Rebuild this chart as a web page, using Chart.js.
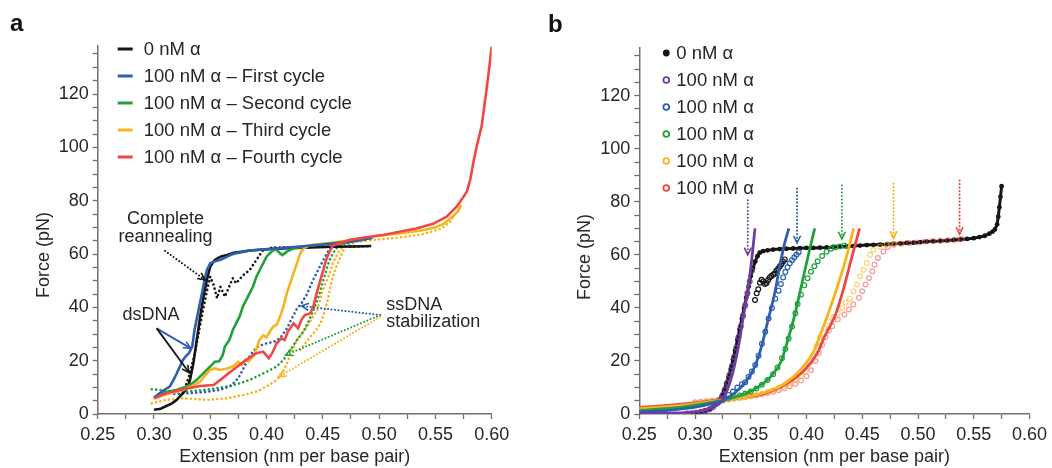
<!DOCTYPE html>
<html>
<head>
<meta charset="utf-8">
<script src="https://cdn.jsdelivr.net/npm/chart.js@4.4.1/dist/chart.umd.min.js"></script>
<style>
  html, body { margin: 0; padding: 0; background: #fff; }
  #wrap { position: relative; width: 1052px; height: 468px; overflow: hidden; }
  canvas { position: absolute; top: 0; }
  #chartA { left: 0; }
  #chartB { left: 526px; }
</style>
</head>
<body>
<div id="wrap">
  <canvas id="chartA" width="526" height="468"></canvas>
  <canvas id="chartB" width="526" height="468"></canvas>
</div>
<script>
// ---- panel a : force-extension cycles (x = nm per bp, y = pN) ----
const aBlack = [[0.300,1.6],[0.306,2.0],[0.311,3.0],[0.316,4.0],[0.320,5.2],[0.324,7.1],[0.327,8.5],[0.330,10.3],[0.332,12.8],[0.335,19.0],[0.338,27.8],[0.341,36.5],[0.344,44.0],[0.347,50.3],[0.350,55.3],[0.354,57.8],[0.359,59.0],[0.365,59.6],[0.371,60.5],[0.377,60.8],[0.385,61.3],[0.400,61.8],[0.420,62.2],[0.440,62.5],[0.460,62.7],[0.478,62.8],[0.493,63.0]];
const aBlackDot = [[0.326,8.0],[0.331,14.0],[0.336,22.0],[0.340,31.0],[0.344,40.0],[0.348,48.0],[0.350,51.5],[0.353,48.4],[0.356,43.4],[0.359,47.7],[0.363,44.0],[0.366,47.0],[0.370,50.9],[0.373,49.0],[0.379,52.0],[0.385,54.0],[0.391,57.8],[0.397,61.5],[0.405,62.4],[0.430,62.6],[0.460,62.8],[0.493,62.9]];
const aBlue = [[0.300,6.0],[0.305,7.8],[0.309,9.0],[0.314,10.3],[0.317,12.5],[0.320,15.0],[0.323,17.8],[0.326,20.5],[0.329,22.0],[0.331,22.8],[0.334,25.3],[0.336,31.5],[0.339,37.8],[0.342,44.0],[0.345,50.3],[0.347,54.0],[0.350,56.5],[0.353,57.1],[0.356,57.5],[0.359,57.8],[0.362,58.4],[0.365,59.0],[0.369,59.8],[0.373,60.3],[0.379,60.8],[0.385,61.3],[0.400,61.8],[0.415,62.3],[0.430,62.8],[0.445,63.4],[0.460,64.0],[0.478,65.0],[0.494,66.0]];
const aBlueDot = [[0.318,7.5],[0.330,7.8],[0.345,8.2],[0.358,9.0],[0.368,10.5],[0.375,13.5],[0.380,17.5],[0.384,21.0],[0.388,23.5],[0.393,25.5],[0.400,26.5],[0.406,27.0],[0.412,28.4],[0.418,32.0],[0.422,35.5],[0.427,39.5],[0.431,41.5],[0.436,45.0],[0.441,50.0],[0.447,55.0],[0.452,59.0],[0.456,62.0],[0.461,63.4],[0.475,64.5],[0.490,65.5]];
const aGreen = [[0.300,6.3],[0.310,8.2],[0.320,9.0],[0.329,10.3],[0.334,11.5],[0.338,12.8],[0.344,15.3],[0.350,17.8],[0.354,19.6],[0.358,19.8],[0.361,22.0],[0.363,25.3],[0.367,27.8],[0.370,31.5],[0.373,34.0],[0.376,36.5],[0.379,40.3],[0.382,42.8],[0.385,45.3],[0.388,47.8],[0.391,51.5],[0.394,54.0],[0.397,56.5],[0.400,59.0],[0.403,60.3],[0.406,61.5],[0.409,61.5],[0.412,60.3],[0.414,59.6],[0.418,60.9],[0.424,62.1],[0.436,63.0],[0.459,64.0],[0.475,65.0],[0.489,66.3]];
const aGreenDot = [[0.298,9.3],[0.311,8.8],[0.329,8.4],[0.350,9.3],[0.365,10.3],[0.376,11.5],[0.385,12.8],[0.394,14.6],[0.403,16.5],[0.409,17.8],[0.415,20.3],[0.421,24.0],[0.427,27.8],[0.433,31.0],[0.438,35.3],[0.443,40.3],[0.447,45.0],[0.450,49.5],[0.453,54.0],[0.456,57.8],[0.459,60.3],[0.462,62.1],[0.466,63.4],[0.477,64.6],[0.489,65.9]];
const aYellow = [[0.300,5.9],[0.312,7.5],[0.326,9.0],[0.334,10.5],[0.341,12.1],[0.347,15.3],[0.350,16.5],[0.354,17.1],[0.359,16.5],[0.365,17.1],[0.370,17.8],[0.375,19.6],[0.378,18.4],[0.381,20.3],[0.384,19.6],[0.388,21.5],[0.391,24.5],[0.394,28.0],[0.397,29.5],[0.400,28.8],[0.403,31.0],[0.406,32.8],[0.409,33.5],[0.412,36.5],[0.415,40.3],[0.418,45.3],[0.421,49.0],[0.424,52.8],[0.427,56.5],[0.430,60.3],[0.433,62.1],[0.439,63.4],[0.459,64.3],[0.477,65.3],[0.489,66.3],[0.500,67.0],[0.520,67.8],[0.540,69.0],[0.550,70.0],[0.558,71.5],[0.565,74.0],[0.570,76.0],[0.573,78.4]];
const aYellowDot = [[0.298,4.0],[0.311,5.3],[0.326,5.9],[0.347,5.3],[0.365,5.9],[0.379,7.1],[0.391,8.4],[0.400,10.3],[0.409,12.8],[0.415,16.0],[0.421,22.0],[0.427,27.8],[0.436,32.8],[0.445,39.0],[0.450,46.5],[0.455,51.5],[0.459,56.5],[0.464,60.9],[0.470,63.4],[0.480,64.5],[0.500,65.5],[0.520,66.3],[0.540,67.5],[0.555,69.5],[0.563,72.0],[0.569,75.9]];
const aYellowDot2 = [[0.430,24.0],[0.437,28.0],[0.443,31.0],[0.448,34.0],[0.452,39.0],[0.455,44.0],[0.458,50.3],[0.462,55.3],[0.467,60.3],[0.471,63.4],[0.480,64.3]];
const aRed = [[0.300,5.9],[0.311,7.8],[0.326,9.3],[0.341,10.5],[0.353,10.9],[0.359,12.8],[0.370,16.5],[0.382,20.3],[0.391,22.8],[0.397,23.4],[0.402,20.9],[0.405,22.8],[0.409,26.5],[0.413,28.4],[0.416,27.8],[0.419,30.9],[0.424,34.0],[0.428,32.1],[0.431,35.3],[0.434,37.1],[0.439,37.8],[0.442,41.0],[0.445,46.0],[0.449,52.0],[0.453,57.8],[0.456,61.0],[0.459,63.2],[0.474,65.3],[0.489,66.3],[0.504,67.1],[0.519,68.4],[0.533,69.6],[0.548,71.3],[0.560,74.0],[0.569,77.8],[0.575,81.5],[0.578,83.5],[0.581,88.0],[0.584,95.0],[0.587,101.0],[0.591,107.8],[0.593,114.0],[0.595,120.3],[0.597,127.0],[0.600,137.8]];

// ---- panel b : data (circles) and fits (lines) ----
const bBlack = [[0.298,0.0],[0.302,0.3],[0.306,0.7],[0.310,1.2],[0.314,2.0],[0.318,3.3],[0.321,5.0],[0.324,7.0],[0.326,9.0],[0.328,11.5],[0.330,14.0],[0.332,17.0],[0.334,20.5],[0.336,24.0],[0.338,28.0],[0.340,32.0],[0.342,36.0],[0.344,40.0],[0.346,44.0],[0.348,48.0],[0.350,52.0],[0.352,55.0],[0.354,57.5],[0.356,59.5],[0.358,60.8],[0.361,61.4],[0.365,61.7],[0.370,62.0],[0.376,62.2],[0.382,62.3],[0.388,62.4],[0.394,62.5],[0.400,62.6],[0.406,62.6],[0.412,62.7],[0.418,62.8],[0.424,63.0],[0.430,63.1],[0.436,63.2],[0.442,63.3],[0.448,63.5],[0.454,63.7],[0.460,63.8],[0.466,63.9],[0.472,64.0],[0.478,64.2],[0.484,64.3],[0.490,64.5],[0.496,64.6],[0.502,64.8],[0.508,65.0],[0.514,65.1],[0.520,65.2],[0.526,65.4],[0.532,65.6],[0.538,65.8],[0.544,66.0],[0.550,66.3],[0.555,66.7],[0.560,67.2],[0.564,68.0],[0.567,68.8],[0.569,69.6],[0.571,71.5],[0.572,74.4],[0.573,78.0],[0.574,81.9],[0.575,85.9]];
const bBlackOpen = [[0.3538,43.0],[0.3553,45.5],[0.3567,47.0],[0.3582,49.5],[0.3597,50.6],[0.3612,50.0],[0.3627,49.0],[0.3641,49.4],[0.3656,50.5],[0.3670,51.5],[0.3685,52.0],[0.3700,52.5],[0.3715,53.0],[0.3730,54.0],[0.3745,54.8],[0.3760,55.6],[0.3775,56.5],[0.3790,57.5],[0.3805,58.3]];
const bPurpleOpen = [[0.293,0.2],[0.297,0.3],[0.301,0.5],[0.305,0.8],[0.309,1.2],[0.313,1.8],[0.316,2.6],[0.319,3.8],[0.322,5.2],[0.325,7.2],[0.327,9.3],[0.329,11.8],[0.331,14.8],[0.333,18.0],[0.335,21.5],[0.337,25.0],[0.339,29.0],[0.341,33.0],[0.343,37.0],[0.345,41.0],[0.347,45.5],[0.349,50.0],[0.351,54.0]];
const bBlueOpen = [[0.322,5.0],[0.326,6.0],[0.330,7.2],[0.334,8.5],[0.338,10.0],[0.342,11.2],[0.345,12.0],[0.348,14.0],[0.351,16.0],[0.354,18.5],[0.357,22.0],[0.360,26.5],[0.363,31.0],[0.366,36.0],[0.369,40.0],[0.372,43.5],[0.375,46.5],[0.377,49.0],[0.379,51.5],[0.381,53.5],[0.383,55.3],[0.385,56.8],[0.387,58.0],[0.389,59.0],[0.391,60.0],[0.393,61.0]];
const bGreenOpen = [[0.325,5.2],[0.330,5.8],[0.335,6.4],[0.340,7.0],[0.345,7.7],[0.350,8.5],[0.355,9.6],[0.360,11.0],[0.365,12.8],[0.370,15.0],[0.374,17.5],[0.378,21.0],[0.381,24.5],[0.384,28.5],[0.387,33.0],[0.390,38.0],[0.392,41.5],[0.395,45.0],[0.398,48.5],[0.401,51.2],[0.404,53.6],[0.407,55.7],[0.410,57.6],[0.414,59.6],[0.418,61.2],[0.422,62.3],[0.426,62.9],[0.430,63.2],[0.434,63.4]];
const bYellowOpen = [[0.300,4.1],[0.305,4.3],[0.310,4.5],[0.315,4.8],[0.320,5.0],[0.325,5.2],[0.330,5.5],[0.335,5.7],[0.340,6.0],[0.345,6.3],[0.350,6.7],[0.355,7.1],[0.360,7.6],[0.365,8.2],[0.370,8.9],[0.375,9.6],[0.380,10.5],[0.385,11.4],[0.390,12.6],[0.395,14.2],[0.399,16.0],[0.403,19.5],[0.406,22.0],[0.409,25.5],[0.412,29.0],[0.416,32.5],[0.420,35.0],[0.424,36.5],[0.428,38.0],[0.432,40.0],[0.435,42.0],[0.439,43.5],[0.442,46.2],[0.445,48.8],[0.448,51.9],[0.451,54.4],[0.454,56.9],[0.457,60.0],[0.460,61.9],[0.466,63.1],[0.472,63.8],[0.479,64.2]];
const bRedOpen = [[0.300,4.4],[0.305,4.6],[0.310,4.8],[0.315,5.0],[0.320,5.2],[0.325,5.4],[0.330,5.6],[0.335,5.9],[0.340,6.1],[0.345,6.4],[0.350,6.7],[0.355,7.0],[0.360,7.4],[0.365,7.9],[0.370,8.4],[0.375,9.0],[0.380,9.7],[0.385,10.5],[0.390,11.4],[0.395,12.6],[0.400,14.2],[0.404,16.5],[0.408,20.0],[0.411,23.0],[0.414,26.0],[0.417,29.0],[0.420,31.5],[0.423,33.1],[0.428,35.6],[0.434,37.5],[0.438,39.4],[0.442,41.3],[0.447,43.8],[0.450,46.3],[0.453,48.8],[0.456,51.3],[0.459,53.8],[0.461,56.3],[0.464,58.8],[0.469,61.3],[0.473,62.9],[0.478,63.8],[0.485,64.2],[0.492,64.5],[0.499,64.7],[0.506,65.0],[0.513,65.2],[0.520,65.4],[0.527,65.6],[0.534,65.8],[0.539,66.0]];
const bPurpleFit = [[0.250,0.2],[0.270,0.3],[0.290,0.5],[0.300,0.8],[0.310,1.6],[0.316,2.8],[0.3243,5.0],[0.3331,14.4],[0.339,25.6],[0.3434,36.9],[0.3479,48.1],[0.3508,58.1],[0.3538,70.0]];
const bBlueFit = [[0.250,0.8],[0.270,1.2],[0.290,2.0],[0.305,3.0],[0.315,4.0],[0.3243,5.0],[0.3361,8.1],[0.345,11.9],[0.3538,18.1],[0.3597,25.6],[0.3656,35.6],[0.3715,45.6],[0.3759,55.6],[0.3804,64.4],[0.3842,70.0]];
const bGreenFit = [[0.250,1.3],[0.270,1.9],[0.290,2.7],[0.305,3.6],[0.315,4.4],[0.325,5.2],[0.335,6.3],[0.345,7.6],[0.3567,10.2],[0.3685,14.4],[0.3774,20.0],[0.3833,28.0],[0.388,35.0],[0.392,42.0],[0.3995,56.0],[0.4039,64.0],[0.4074,70.0]];
const bYellowFit = [[0.250,2.0],[0.270,2.6],[0.290,3.3],[0.305,4.2],[0.320,5.0],[0.335,5.8],[0.350,6.8],[0.3627,8.1],[0.3804,11.5],[0.3951,16.9],[0.4069,24.0],[0.4113,28.75],[0.420,38.5],[0.4276,48.0],[0.435,58.0],[0.4423,70.0]];
const bRedFit = [[0.250,2.5],[0.270,3.1],[0.290,3.8],[0.305,4.5],[0.320,5.2],[0.335,5.9],[0.350,6.7],[0.3627,7.8],[0.3804,11.0],[0.398,16.5],[0.4098,23.0],[0.4157,28.75],[0.426,37.5],[0.4334,47.5],[0.4393,57.0],[0.4476,70.0]];
// transition arrows in b: [x, y start, y tip]
const bArrows = [[0.3473,80.6,60.0],[0.3915,85.0,64.5],[0.4317,86.2,66.0],[0.4780,86.9,66.2],[0.5373,88.0,67.8]];

const xTickMin = 0.25, xTickMax = 0.60, yMax = 138;
const legendA = ['0 nM \u03b1', '100 nM \u03b1 \u2013 First cycle', '100 nM \u03b1 \u2013 Second cycle', '100 nM \u03b1 \u2013 Third cycle', '100 nM \u03b1 \u2013 Fourth cycle'];
const legendB = ['0 nM \u03b1', '100 nM \u03b1', '100 nM \u03b1', '100 nM \u03b1', '100 nM \u03b1', '100 nM \u03b1'];

const BLACK = '#151515', BLUE = '#2d5eb0', GREEN = '#21a13c', YELLOW = '#f8b41c', RED = '#ee4747', PURPLE = '#6e3e9e';
const YELLOW_L = 'rgba(248,180,28,0.6)', RED_L = 'rgba(238,71,71,0.55)';
const AXIS = '#7b6c66', TXT = '#262626';
const FONT = "'Liberation Sans', Arial, Helvetica, sans-serif";

Chart.defaults.font.family = FONT;
Chart.defaults.color = TXT;

function xy(arr) {
    return arr.map(function (p) { return {x: p[0], y: p[1]}; });
}

function solid(data, color, order) {
    return {data: xy(data), borderColor: color, borderWidth: 2.6, pointRadius: 0, tension: 0, order: order};
}

function dotted(data, color, order) {
    return {data: xy(data), borderColor: color, borderWidth: 2.6, borderDash: [0.1, 4.3], borderCapStyle: 'round',
        pointRadius: 0, tension: 0, order: order};
}

function circles(data, color, order) {
    return {data: xy(data), showLine: false, pointRadius: 2.4, pointBorderWidth: 1.2,
        pointBorderColor: color, pointBackgroundColor: 'rgba(255,255,255,0)', order: order};
}

function fit(data, color, order) {
    return {data: xy(data), borderColor: color, borderWidth: 2.8, pointRadius: 0,
        cubicInterpolationMode: 'monotone', order: order};
}

function makeScales(yWidth) {
    return {
        x: {
            type: 'linear', min: xTickMin, max: xTickMax,
            afterFit: function (s) { s.height = 54; },
            ticks: {
                stepSize: 0.025, padding: 5, maxRotation: 0, autoSkip: false, color: TXT, font: {size: 18},
                callback: function (v) { return Math.round(v * 1000) % 50 === 0 ? v.toFixed(2) : ''; }
            },
            grid: {drawOnChartArea: false, drawTicks: true, tickLength: 5, tickColor: AXIS, tickWidth: 1.3},
            border: {display: true, color: AXIS, width: 1.5},
            title: {display: true, text: 'Extension (nm per base pair)', color: TXT, font: {size: 18}, padding: 0}
        },
        y: {
            type: 'linear', min: 0, max: yMax,
            afterFit: function (s) { s.width = yWidth; },
            ticks: {
                stepSize: 5, includeBounds: false, padding: 4, autoSkip: false, color: TXT, font: {size: 18},
                callback: function (v) { return v % 20 === 0 ? String(v) : ''; }
            },
            grid: {drawOnChartArea: false, drawTicks: true, tickLength: 5, tickColor: AXIS, tickWidth: 1.3},
            border: {display: true, color: AXIS, width: 1.5}
        }
    };
}

function arrow(ctx, x1, y1, x2, y2, color, isDotted) {
    ctx.save();
    ctx.strokeStyle = color;
    if (isDotted) {
        ctx.lineWidth = 2;
        ctx.lineCap = 'round';
        ctx.setLineDash([0.1, 3.4]);
    } else {
        ctx.lineWidth = 1.8;
    }
    ctx.beginPath();
    ctx.moveTo(x1, y1);
    ctx.lineTo(x2, y2);
    ctx.stroke();
    ctx.setLineDash([]);
    ctx.lineCap = 'butt';
    ctx.lineWidth = 1.6;
    var a = Math.atan2(y2 - y1, x2 - x1), h = 8;
    ctx.beginPath();
    ctx.moveTo(x2 - h * Math.cos(a - 0.45), y2 - h * Math.sin(a - 0.45));
    ctx.lineTo(x2, y2);
    ctx.lineTo(x2 - h * Math.cos(a + 0.45), y2 - h * Math.sin(a + 0.45));
    ctx.stroke();
    ctx.restore();
}

function yTitle(chart) {
    var ctx = chart.ctx, area = chart.chartArea;
    ctx.save();
    ctx.translate(area.left - 54, area.top + 209);
    ctx.rotate(-Math.PI / 2);
    ctx.font = '18px ' + FONT;
    ctx.fillStyle = TXT;
    ctx.textAlign = 'center';
    ctx.textBaseline = 'middle';
    ctx.fillText('Force (pN)', 0, 0);
    ctx.restore();
}

function panelLetter(chart, letter, x, y) {
    var ctx = chart.ctx;
    ctx.save();
    ctx.font = 'bold 24px ' + FONT;
    ctx.fillStyle = '#111';
    ctx.fillText(letter, x, y);
    ctx.restore();
}

// ---------- panel a ----------
const decorA = {
    id: 'decorA',
    afterDraw: function (chart) {
        var ctx = chart.ctx, area = chart.chartArea, sx = chart.scales.x, sy = chart.scales.y;
        var X = function (v) { return sx.getPixelForValue(v); }, Y = function (v) { return sy.getPixelForValue(v); };
        panelLetter(chart, 'a', 10, 31);
        yTitle(chart);

        // legend
        var colors = [BLACK, BLUE, GREEN, YELLOW, RED];
        ctx.save();
        ctx.font = '18.5px ' + FONT;
        ctx.textBaseline = 'middle';
        legendA.forEach(function (label, i) {
            var y = area.top + 3 + i * 27;
            ctx.strokeStyle = colors[i];
            ctx.lineWidth = 3;
            ctx.beginPath();
            ctx.moveTo(area.left + 20, y);
            ctx.lineTo(area.left + 35, y);
            ctx.stroke();
            ctx.fillStyle = TXT;
            ctx.fillText(label, area.left + 46, y + 1);
        });

        // annotation texts
        ctx.font = '18px ' + FONT;
        ctx.textAlign = 'center';
        ctx.fillText('Complete', X(0.3103), Y(73.1));
        ctx.fillText('reannealing', X(0.3103), Y(66.2));
        ctx.fillText('dsDNA', X(0.2973), Y(37.3));
        ctx.textAlign = 'left';
        ctx.fillText('ssDNA', X(0.5064), Y(40.9));
        ctx.fillText('stabilization', X(0.5064), Y(34.6));
        ctx.restore();

        arrow(ctx, X(0.3098), Y(61.2), X(0.3453), Y(50.3), BLACK, true);
        arrow(ctx, X(0.3024), Y(32.1), X(0.3326), Y(24.6), BLUE, false);
        arrow(ctx, X(0.3024), Y(32.1), X(0.3313), Y(15.5), BLACK, false);
        arrow(ctx, X(0.5010), Y(37.1), X(0.4310), Y(40.5), BLUE, true);
        arrow(ctx, X(0.5010), Y(37.1), X(0.4170), Y(22.1), GREEN, true);
        arrow(ctx, X(0.5010), Y(36.4), X(0.4110), Y(14.0), YELLOW, true);
    }
};

new Chart(document.getElementById('chartA'), {
    type: 'line',
    data: {
        datasets: [
            dotted(aBlackDot, BLACK, 12),
            dotted(aBlueDot, BLUE, 11),
            dotted(aGreenDot, GREEN, 11),
            dotted(aYellowDot, YELLOW, 11),
            dotted(aYellowDot2, YELLOW, 11),
            solid(aBlack, BLACK, 6),
            solid(aGreen, GREEN, 5),
            solid(aYellow, YELLOW, 4),
            solid(aBlue, BLUE, 3),
            solid(aRed, RED, 2)
        ]
    },
    options: {
        responsive: false,
        animation: false,
        layout: {padding: {left: 0, right: 34.3, top: 46, bottom: 0}},
        plugins: {legend: {display: false}, tooltip: {enabled: false}},
        scales: makeScales(97.7)
    },
    plugins: [decorA]
});

// ---------- panel b ----------
const decorB = {
    id: 'decorB',
    afterDraw: function (chart) {
        var ctx = chart.ctx, area = chart.chartArea, sx = chart.scales.x, sy = chart.scales.y;
        panelLetter(chart, 'b', 22, 32);
        yTitle(chart);

        var colors = [BLACK, PURPLE, BLUE, GREEN, YELLOW, RED];
        ctx.save();
        ctx.font = '18.5px ' + FONT;
        ctx.textBaseline = 'middle';
        legendB.forEach(function (label, i) {
            var y = area.top + 5 + i * 27, cx = area.left + 27;
            ctx.beginPath();
            if (i === 0) {
                ctx.fillStyle = colors[i];
                ctx.arc(cx, y, 3.4, 0, Math.PI * 2);
                ctx.fill();
            } else {
                ctx.strokeStyle = colors[i];
                ctx.lineWidth = 1.8;
                ctx.arc(cx, y, 2.9, 0, Math.PI * 2);
                ctx.stroke();
            }
            ctx.fillStyle = TXT;
            ctx.fillText(label, area.left + 37, y + 1);
        });
        ctx.restore();

        var arrowColors = [PURPLE, BLUE, GREEN, YELLOW, RED];
        bArrows.forEach(function (a, i) {
            var x = sx.getPixelForValue(a[0]);
            arrow(ctx, x, sy.getPixelForValue(a[1]), x, sy.getPixelForValue(a[2]), arrowColors[i], true);
        });
    }
};

const bBlackSet = {data: xy(bBlack), borderColor: BLACK, borderWidth: 3, pointRadius: 2.4, pointBorderWidth: 0,
    pointBackgroundColor: BLACK, tension: 0, order: 20};

new Chart(document.getElementById('chartB'), {
    type: 'line',
    data: {
        datasets: [
            bBlackSet,
            circles(bRedOpen, RED_L, 16),
            circles(bYellowOpen, YELLOW_L, 15),
            circles(bGreenOpen, GREEN, 14),
            circles(bBlueOpen, BLUE, 13),
            circles(bBlackOpen, BLACK, 13),
            circles(bPurpleOpen, PURPLE, 12),
            fit(bRedFit, RED, 5),
            fit(bYellowFit, YELLOW, 4),
            fit(bGreenFit, GREEN, 3),
            fit(bBlueFit, BLUE, 2),
            fit(bPurpleFit, PURPLE, 1)
        ]
    },
    options: {
        responsive: false,
        animation: false,
        layout: {padding: {left: 0, right: 17.5, top: 48, bottom: 0}},
        plugins: {legend: {display: false}, tooltip: {enabled: false}},
        scales: makeScales(113.3)
    },
    plugins: [decorB]
});
</script>
</body>
</html>
